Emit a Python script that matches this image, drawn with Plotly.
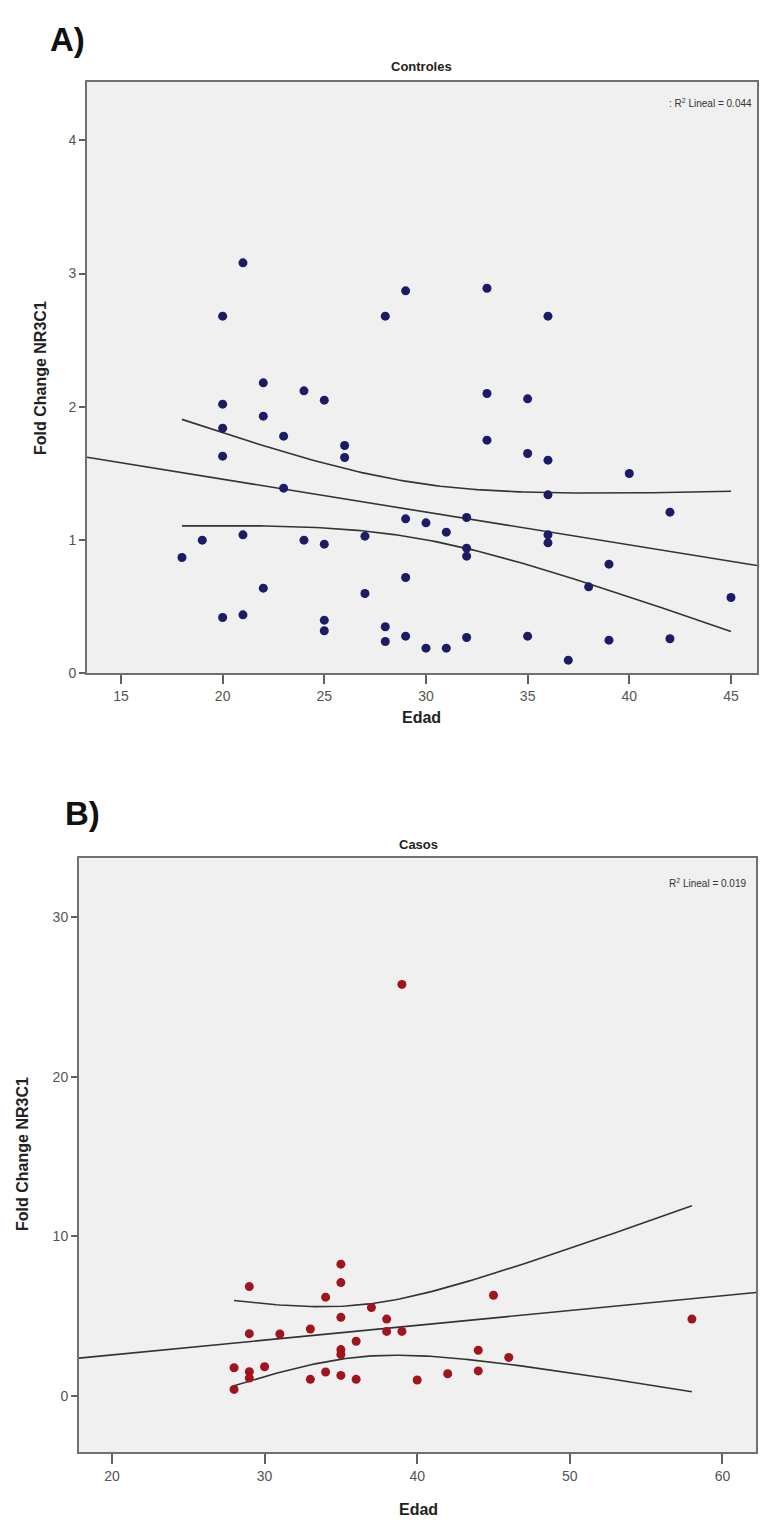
import numpy as np
import plotly.graph_objects as go

# ---------------- data ----------------
ctrl_age = [18, 19,
            20, 20, 20, 20, 20,
            21, 21, 21,
            22, 22, 22,
            23, 23,
            24, 24,
            25, 25, 25, 25,
            26, 26,
            27, 27,
            28, 28, 28,
            29, 29, 29, 29,
            30, 30,
            31, 31,
            32, 32, 32, 32,
            33, 33, 33,
            35, 35, 35,
            36, 36, 36, 36, 36,
            37, 38, 39, 39, 40, 42, 42, 45]
ctrl_fc = [0.87, 1.00,
           0.42, 1.63, 1.84, 2.02, 2.68,
           0.44, 1.04, 3.08,
           0.64, 1.93, 2.18,
           1.39, 1.78,
           1.00, 2.12,
           0.32, 0.40, 0.97, 2.05,
           1.62, 1.71,
           0.60, 1.03,
           0.24, 0.35, 2.68,
           0.28, 0.72, 1.16, 2.87,
           0.19, 1.13,
           0.19, 1.06,
           0.27, 0.88, 0.94, 1.17,
           1.75, 2.10, 2.89,
           0.28, 1.65, 2.06,
           0.98, 1.04, 1.34, 1.60, 2.68,
           0.10, 0.65, 0.25, 0.82, 1.50, 0.26, 1.21, 0.57]

case_age = [28, 28,
            29, 29, 29, 29,
            30, 31,
            33, 33,
            34, 34,
            35, 35, 35, 35, 35, 35,
            36, 36,
            37, 38, 38, 39, 39, 40, 42,
            44, 44, 45, 46, 58]
case_fc = [0.39, 1.75,
           6.84, 3.89, 1.50, 1.10,
           1.81, 3.87,
           4.18, 1.02,
           6.18, 1.48,
           8.25, 7.09, 4.91, 2.89, 2.58, 1.27,
           3.41, 1.02,
           5.53, 4.80, 4.03, 4.03, 25.8, 0.98, 1.37,
           2.85, 1.55, 6.30, 2.40, 4.80]

ctrl_r2_label = "R<sup>2</sup> Lineal = 0.044"
case_r2_label = "R<sup>2</sup> Lineal = 0.019"

ctrl_xticks = [15, 20, 25, 30, 35, 40, 45]
ctrl_yticks = [0, 1, 2, 3, 4]
case_xticks = [20, 30, 40, 50, 60]
case_yticks = [0, 10, 20, 30]


# ---------------- helpers ----------------
def t_quantile(df, z=1.959964):
    return z + (z**3 + z) / (4 * df) + (5 * z**5 + 16 * z**3 + 3 * z) / (96 * df**2)


def fit_lines(x, y, xr):
    x = np.asarray(x, float)
    y = np.asarray(y, float)
    n = len(x)
    b, a = np.polyfit(x, y, 1)
    resid = y - (a + b * x)
    s = np.sqrt(np.sum(resid**2) / (n - 2))
    sxx = np.sum((x - x.mean())**2)
    t = t_quantile(n - 2)
    xs = np.linspace(x.min(), x.max(), 120)
    se = s * np.sqrt(1.0 / n + (xs - x.mean())**2 / sxx)
    yh = a + b * xs
    xl = np.array(xr)
    return (xl, a + b * xl), (xs, yh + t * se), (xs, yh - t * se)


W, H = 761, 1531
def px(v):
    return v / W
def py(v):
    return 1 - v / H

ctrl_xr = [13.33, 46.28]
ctrl_yr = [0, 4.44]
case_xr = [17.84, 62.2]
case_yr = [-3.56, 33.7]

fig = go.Figure()

line_style = dict(color="#333333", width=1.6)

for (ages, fcs, xr, xa, ya, col) in [
        (ctrl_age, ctrl_fc, ctrl_xr, "x", "y", "#1b1b66"),
        (case_age, case_fc, case_xr, "x2", "y2", "#a0141e")]:
    fl, up, lo = fit_lines(ages, fcs, xr)
    for (lx, ly) in (fl, up, lo):
        fig.add_trace(go.Scatter(x=lx, y=ly, mode="lines", line=line_style,
                                 xaxis=xa, yaxis=ya, showlegend=False,
                                 hoverinfo="skip"))
    fig.add_trace(go.Scatter(x=ages, y=fcs, mode="markers",
                             marker=dict(color=col, size=9),
                             xaxis=xa, yaxis=ya, showlegend=False))

axis_common = dict(showline=True, linecolor="#707070", linewidth=2, mirror=True,
                   ticks="outside", tickwidth=1.5, tickcolor="#606060",
                   showgrid=False, zeroline=False,
                   tickfont=dict(family="Liberation Sans, Arial", size=14, color="#555555"))

title_font = dict(family="Liberation Sans, Arial", size=16, color="#222222")

fig.update_layout(
    width=W, height=H, margin=dict(l=0, r=0, t=0, b=0),
    paper_bgcolor="white", plot_bgcolor="#f0f0f0",
    xaxis=dict(domain=[px(87), px(757)], range=ctrl_xr, tickvals=ctrl_xticks,
               anchor="y", ticklen=9, **axis_common),
    yaxis=dict(domain=[py(677), py(82)], range=ctrl_yr, tickvals=ctrl_yticks,
               anchor="x", ticklen=6, **axis_common),
    xaxis2=dict(domain=[px(79), px(756)], range=case_xr, tickvals=case_xticks,
                anchor="y2", ticklen=10, **axis_common),
    yaxis2=dict(domain=[py(1460), py(863)], range=case_yr, tickvals=case_yticks,
                anchor="x2", ticklen=6, **axis_common),
)

annots = [
    dict(text="<b>A)</b>", x=px(48), y=py(40), xanchor="left", yanchor="middle",
         font=dict(family="Liberation Sans, Arial", size=33, color="#111111")),
    dict(text="<b>B)</b>", x=px(63), y=py(818), xanchor="left", yanchor="middle",
         font=dict(family="Liberation Sans, Arial", size=33, color="#111111")),
    dict(text="<b>Controles</b>", x=px(421), y=py(67), xanchor="center", yanchor="middle",
         font=dict(family="Liberation Sans, Arial", size=13, color="#222222")),
    dict(text="<b>Casos</b>", x=px(418), y=py(849), xanchor="center", yanchor="middle",
         font=dict(family="Liberation Sans, Arial", size=13, color="#222222")),
    dict(text="<b>Edad</b>", x=px(421), y=py(721), xanchor="center", yanchor="middle",
         font=title_font),
    dict(text="<b>Edad</b>", x=px(418), y=py(1517), xanchor="center", yanchor="middle",
         font=title_font),
    dict(text="<b>Fold Change NR3C1</b>", x=px(40), y=py(380), xanchor="center",
         yanchor="middle", textangle=-90, font=title_font),
    dict(text="<b>Fold Change NR3C1</b>", x=px(23), y=py(1160), xanchor="center",
         yanchor="middle", textangle=-90, font=title_font),
    dict(text=": " + ctrl_r2_label, x=px(754), y=py(104), xanchor="right", yanchor="middle",
         font=dict(family="Liberation Sans Narrow, Liberation Sans, Arial", size=10,
                   color="#333333")),
    dict(text=case_r2_label, x=px(748), y=py(888), xanchor="right", yanchor="middle",
         font=dict(family="Liberation Sans Narrow, Liberation Sans, Arial", size=10,
                   color="#333333")),
]
for a in annots:
    a.update(xref="paper", yref="paper", showarrow=False)
fig.update_layout(annotations=annots)

fig.write_html("out.html")
